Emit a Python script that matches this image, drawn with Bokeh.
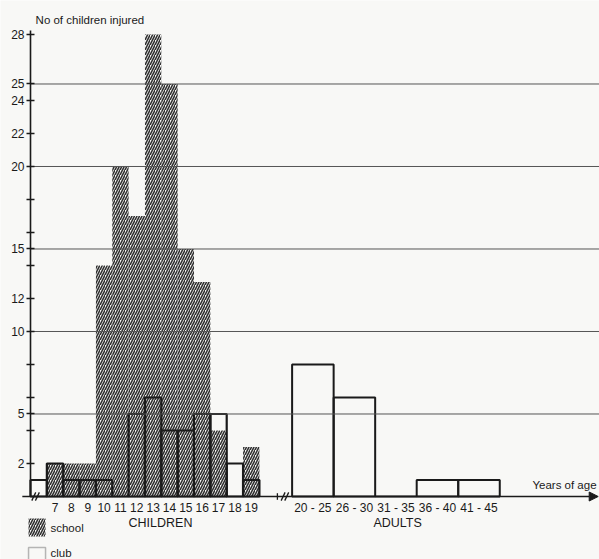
from bokeh.plotting import figure
from bokeh.models import (Range1d, FixedTicker, Label, Arrow, NormalHead,
                          BoxAnnotation, LinearAxis)
from bokeh.embed import file_html
from bokeh.resources import INLINE

# ---------------- data ----------------
child_ages = [6, 7, 8, 9, 10, 11, 12, 13, 14, 15, 16, 17, 18, 19]
child_labels = ["", "7", "8", "9", "10", "11", "12", "13", "14", "15", "16", "17", "18", "19"]
school = [0, 2, 2, 2, 14, 20, 17, 28, 25, 15, 13, 4, 0, 3]
club_children = [1, 2, 1, 1, 1, 0, 5, 6, 4, 4, 5, 5, 2, 1]
adult_groups = ["20 - 25", "26 - 30", "31 - 35", "36 - 40", "41 - 45"]
club_adults = [8, 6, 0, 1, 1]
y_ticks = [2, 4, 5, 6, 8, 10, 12, 14, 15, 16, 18, 20, 22, 24, 25, 28]
y_labelled = [2, 5, 10, 12, 15, 20, 22, 24, 25, 28]
grid_values = [5, 10, 15, 20, 25]

# ---------------- layout (broken x scale) ----------------
ADULT_START = 16.0
ADULT_W = 2.54
X_END = 34.72
Y_TOP = 28.24
BG = "#f8f8f6"
INK = "#1a1a1a"
HATCH = "#303030"
FONT = "Liberation Sans"

c_left = [float(i) for i in range(len(child_ages))]
c_right = [l + 1 for l in c_left]
a_left = [ADULT_START + ADULT_W * j for j in range(len(adult_groups))]
a_right = [l + ADULT_W for l in a_left]

p = figure(width=599, height=559, x_range=Range1d(-1.835, 34.80), y_range=Range1d(-3.818, 30.06),
           output_backend="svg", toolbar_location=None,
           x_axis_type=None, y_axis_type=None,
           min_border_left=0, min_border_right=0, min_border_top=0, min_border_bottom=0)
p.background_fill_color = BG
p.border_fill_color = BG
p.outline_line_color = None

# school: hatched, no outline
p.quad(left=c_left, right=c_right, bottom=0, top=school,
       fill_color=None, line_color=None,
       hatch_pattern="/", hatch_color=HATCH, hatch_scale=5, hatch_weight=1.6)

# club: outlined bars
p.quad(left=c_left, right=c_right, bottom=0, top=club_children,
       fill_color=None, line_color=INK, line_width=2.2)
p.quad(left=a_left, right=a_right, bottom=0, top=club_adults,
       fill_color=None, line_color=INK, line_width=2.0)

# horizontal reference lines (from the y axis to the right edge), on top of bars
p.segment(x0=0, x1=X_END + 0.1, y0=grid_values, y1=grid_values,
          line_color="#555555", line_width=1)

# y axis placed at x = 0
yaxis = LinearAxis(ticker=FixedTicker(ticks=y_ticks), fixed_location=0, bounds=(0, Y_TOP))
yaxis.major_label_overrides = {t: (str(t) if t in y_labelled else "") for t in y_ticks}
yaxis.axis_line_color = INK
yaxis.axis_line_width = 1.6
yaxis.major_tick_line_color = INK
yaxis.major_tick_line_width = 1.5
yaxis.major_tick_in = 4
yaxis.major_tick_out = 4
yaxis.minor_tick_line_color = None
yaxis.major_label_standoff = 2
yaxis.major_label_text_font = FONT
yaxis.major_label_text_font_size = "12px"
yaxis.major_label_text_color = INK
p.add_layout(yaxis, "left")

# x axis tick labels placed at y = 0
x_centers = [(l + r) / 2 for l, r in zip(c_left, c_right)] + [(l + r) / 2 for l, r in zip(a_left, a_right)]
x_texts = child_labels + adult_groups
xaxis = LinearAxis(ticker=FixedTicker(ticks=x_centers), fixed_location=0)
xaxis.major_label_overrides = {t: s for t, s in zip(x_centers, x_texts)}
xaxis.axis_line_color = None
xaxis.major_tick_line_color = None
xaxis.minor_tick_line_color = None
xaxis.major_tick_out = 0
xaxis.major_tick_in = 0
xaxis.major_label_standoff = 4
xaxis.major_label_text_font = FONT
xaxis.major_label_text_font_size = "12px"
xaxis.major_label_text_color = INK
p.add_layout(xaxis, "below")

# x axis line with arrow
p.add_layout(Arrow(end=NormalHead(size=9, fill_color=INK, line_color=INK),
                   x_start=-0.5, y_start=0, x_end=X_END, y_end=0,
                   line_color=INK, line_width=1.6))

# break marks
for bx in [0.2, 0.42, ADULT_START - 0.55, ADULT_START - 0.33]:
    p.add_layout(Arrow(end=None, x_start=bx - 0.12, y_start=-0.25, x_end=bx + 0.12, y_end=0.25,
                       line_color=INK, line_width=1.3))
p.add_layout(Arrow(end=None, x_start=ADULT_START - 0.9, y_start=-0.2, x_end=ADULT_START - 0.9, y_end=0.2,
                   line_color=INK, line_width=1.3))

# texts
def lab(x, y, t, size="11.5px", align="left", base="middle"):
    p.add_layout(Label(x=x, y=y, text=t, text_font=FONT, text_font_size=size,
                       text_color=INK, text_align=align, text_baseline=base))

lab(0.31, 28.9, "No of children injured")
lab(34.62, 0.68, "Years of age", align="right")
lab(7.95, -1.6, "CHILDREN", size="12.5px", align="center")
lab(22.45, -1.6, "ADULTS", size="12.5px", align="center")

# legend swatches
p.add_layout(BoxAnnotation(left=-0.12, right=0.92, top=-1.33, bottom=-2.42,
                           fill_color=None, line_color=None,
                           hatch_pattern="/", hatch_color=HATCH, hatch_scale=5, hatch_weight=1.6))
lab(1.22, -1.9, "school")
p.add_layout(BoxAnnotation(left=-0.12, right=0.92, top=-3.09, bottom=-3.95,
                           fill_color=None, line_color=INK, line_width=1.5))
lab(1.22, -3.45, "club")

open("out.html", "w").write(file_html(p, INLINE))
